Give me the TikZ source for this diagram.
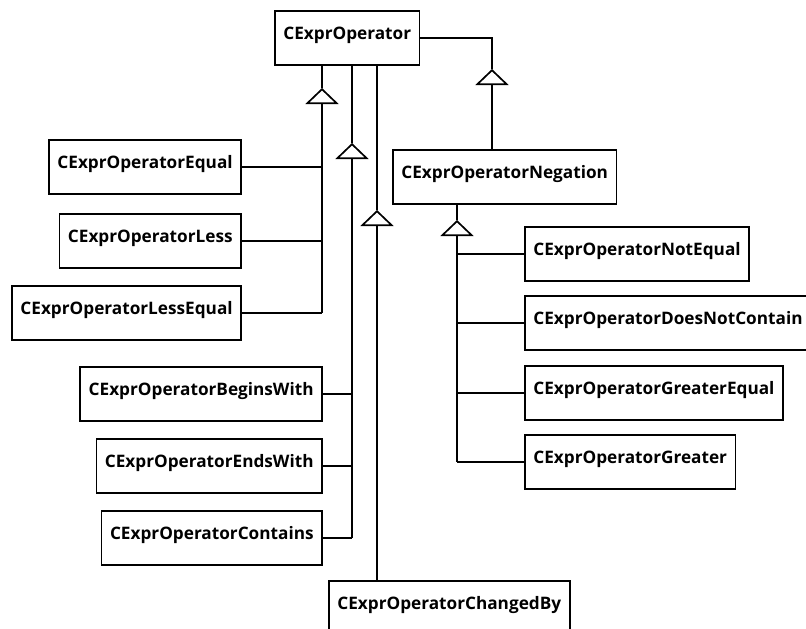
\documentclass[tikz,border=0pt]{standalone}
\usepackage{fontspec}
\setmainfont{Open Sans}
\usetikzlibrary{arrows.meta}
\tikzset{
  cls/.style={draw=black, line width=1.7pt, fill=white, inner xsep=8.5pt, inner ysep=0pt, text height=29pt, text depth=25pt, font=\fontsize{17.2}{20}\selectfont\bfseries},
  lnk/.style={line width=1.7pt},
  gen/.style={line width=1.7pt, -{Triangle[open, length=16pt, width=33pt]}}
}
\begin{document}
\begin{tikzpicture}[x=1pt,y=-1pt]
\useasboundingbox (0,0) rectangle (806,629);
\clip (0,0) rectangle (806,629);
\node[cls, anchor=north west] (op) at (274,10) {CExprOperator};
\node[cls, anchor=north west] (neg) at (392,149) {CExprOperatorNegation};
\node[cls, anchor=north east] (eq) at (242,139) {CExprOperatorEqual};
\node[cls, anchor=north east] (less) at (242,213) {CExprOperatorLess};
\node[cls, anchor=north east] (leq) at (242,285) {CExprOperatorLessEqual};
\node[cls, anchor=north east] (bw) at (323,366) {CExprOperatorBeginsWith};
\node[cls, anchor=north east] (ew) at (323,438) {CExprOperatorEndsWith};
\node[cls, anchor=north east] (cont) at (323,510) {CExprOperatorContains};
\node[cls, anchor=north west] (chg) at (328,580) {CExprOperatorChangedBy};
\node[cls, anchor=north west] (neq) at (524,226) {CExprOperatorNotEqual};
\node[cls, anchor=north west] (dnc) at (524,295) {CExprOperatorDoesNotContain};
\node[cls, anchor=north west] (geq) at (524,365) {CExprOperatorGreaterEqual};
\node[cls, anchor=north west] (gr) at (524,434) {CExprOperatorGreater};
\coordinate (t1) at (322,88);
\coordinate (t2) at (352,143);
\coordinate (t3) at (377,210);
\coordinate (t4) at (492,69);
\coordinate (t5) at (457,220);
\draw[lnk] (op.south -| t1) -- (t1);
\draw[gen] (leq.east -| t1) -- (t1);
\draw[lnk] (eq.east) -- (eq.east -| t1);
\draw[lnk] (less.east) -- (less.east -| t1);
\draw[lnk] (leq.east) -- (leq.east -| t1);
\draw[lnk] (op.south -| t2) -- (t2);
\draw[gen] (cont.east -| t2) -- (t2);
\draw[lnk] (bw.east) -- (bw.east -| t2);
\draw[lnk] (ew.east) -- (ew.east -| t2);
\draw[lnk] (cont.east) -- (cont.east -| t2);
\draw[lnk] (op.south -| t3) -- (t3);
\draw[gen] (chg.north -| t3) -- (t3);
\draw[lnk] (op.east) -| (t4);
\draw[gen] (neg.north -| t4) -- (t4);
\draw[lnk] (neg.south -| t5) -- (t5);
\draw[gen] (gr.west -| t5) -- (t5);
\draw[lnk] (neq.west) -- (neq.west -| t5);
\draw[lnk] (dnc.west) -- (dnc.west -| t5);
\draw[lnk] (geq.west) -- (geq.west -| t5);
\draw[lnk] (gr.west) -- (gr.west -| t5);
\end{tikzpicture}
\end{document}
